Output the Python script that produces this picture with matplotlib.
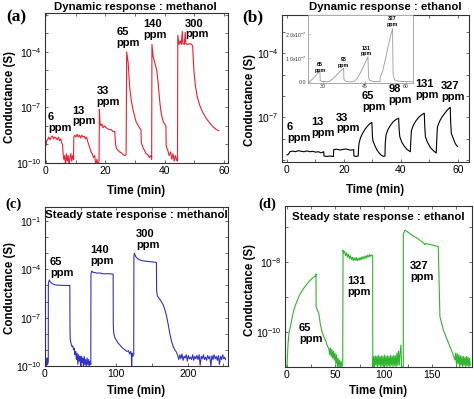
import numpy as np
import matplotlib.pyplot as plt
from matplotlib.ticker import FixedLocator, FuncFormatter, NullFormatter

plt.rcParams['font.family'] = ['Liberation Sans', 'DejaVu Sans']
plt.rcParams['mathtext.default'] = 'regular'

# ---- data: (time in min, log10 conductance in S) ----
a_points = [
    (0.0, -9.05), (0.3, -8.8), (0.7, -8.7), (1.0, -8.6), (1.4, -8.75), (1.8, -8.6), (2.2, -8.55),
    (2.6, -8.7), (3.0, -8.6), (3.4, -8.65), (3.8, -8.75), (4.2, -8.6), (4.6, -8.8), (5.0, -8.7),
    (5.3, -8.9), (5.6, -9.0), (5.8, -9.5), (6.0, -9.8), (6.3, -9.6), (6.6, -10.1), (6.9, -9.5),
    (7.2, -9.9), (7.5, -9.6), (7.8, -10.1), (8.1, -9.7), (8.4, -9.5), (8.7, -9.9), (9.0, -9.6),
    (9.3, -9.8), (9.4, -8.6), (9.7, -8.5), (10.1, -8.6), (10.5, -8.45), (10.9, -8.6), (11.3, -8.5),
    (11.7, -8.65), (12.1, -8.5), (12.5, -8.6), (12.9, -8.55), (13.3, -8.7), (13.7, -8.6),
    (14.0, -8.8), (14.4, -9.0), (14.8, -9.2), (15.2, -9.4), (15.6, -9.5), (16.0, -9.7),
    (16.4, -9.6), (16.8, -10.1), (17.2, -9.8), (17.6, -10.1), (17.9, -9.9),
    (18.0, -7.1), (18.2, -7.8), (18.5, -8.0), (18.9, -7.9), (19.3, -8.1), (19.8, -8.0),
    (20.3, -8.1), (20.8, -8.15), (21.4, -8.2), (22.0, -8.2), (22.6, -8.3), (23.2, -8.3),
    (23.4, -8.9), (23.7, -9.2), (24.2, -9.3), (24.8, -9.4), (25.4, -9.45), (26.0, -9.55),
    (26.6, -9.6), (27.0, -9.55),
    (27.2, -4.0), (27.7, -4.6), (28.2, -5.9), (28.7, -6.6), (29.3, -7.1), (29.9, -7.5),
    (30.4, -7.8), (31.0, -7.95), (31.5, -8.1), (32.0, -8.2), (32.1, -8.9), (32.8, -9.2),
    (33.7, -9.5), (34.3, -9.55), (34.8, -9.7), (35.3, -9.6), (35.6, -9.8),
    (35.7, -3.6), (36.1, -4.25), (36.7, -4.6), (37.3, -4.97), (37.8, -5.7), (38.4, -6.8),
    (38.9, -7.4), (39.5, -7.77), (40.0, -7.9), (40.4, -8.0), (40.5, -9.1), (41.0, -9.3),
    (41.5, -9.6), (42.0, -9.4), (42.4, -9.8), (42.8, -9.5), (43.2, -9.9), (43.6, -9.6),
    (44.0, -9.85), (44.3, -9.9),
    (44.4, -3.1), (44.8, -3.6), (45.2, -3.4), (45.6, -3.6), (45.9, -2.9), (46.1, -3.55),
    (46.6, -3.6), (46.9, -2.95), (47.1, -3.55), (47.8, -3.6), (48.5, -3.55), (49.1, -3.6),
    (49.4, -3.7), (49.8, -4.97), (50.3, -5.8), (50.9, -6.4), (51.8, -6.9), (52.9, -7.3),
    (54.0, -7.6), (55.2, -7.85), (56.3, -8.05), (57.4, -8.2), (58.2, -8.25),
]
a_labels = ['6', '13', '33', '65', '140', '300']
a_label_pos = [(0.7, -7.81), (9.0, -7.46), (17.1, -6.42), (23.8, -3.24), (32.8, -2.81), (46.8, -2.76)]

b_points = [
    (0.0, -8.75), (0.5, -8.72), (1.0, -8.6), (2.0, -8.57), (3.0, -8.6), (4.0, -8.55), (5.0, -8.58),
    (6.0, -8.6), (7.0, -8.56), (8.0, -8.6), (9.0, -8.58), (10.0, -8.62), (11.0, -8.6), (12.0, -8.65),
    (12.9, -8.6), (13.0, -8.8), (14.0, -8.82), (15.0, -8.8), (16.3, -8.82), (16.4, -8.5),
    (17.5, -8.48), (18.5, -8.52), (19.5, -8.5), (20.5, -8.47), (21.5, -8.5), (22.5, -8.53),
    (23.4, -8.5), (23.5, -8.8), (24.3, -8.82), (25.0, -8.8),
    (25.1, -8.5), (25.3, -8.2), (25.8, -7.95), (26.5, -7.75), (27.3, -7.57), (28.1, -7.43),
    (29.0, -7.3), (29.8, -7.23), (30.0, -7.9), (30.2, -8.1), (30.8, -8.3), (31.5, -8.5),
    (32.3, -8.65), (33.0, -8.75), (33.9, -8.82), (34.4, -8.8),
    (34.5, -8.2), (34.8, -7.8), (35.5, -7.55), (36.4, -7.35), (37.3, -7.2), (38.2, -7.1),
    (39.2, -7.03), (39.4, -7.6), (39.6, -7.9), (40.3, -8.15), (41.2, -8.35), (42.2, -8.5),
    (43.3, -8.6),
    (43.5, -8.0), (43.7, -7.6), (44.4, -7.35), (45.3, -7.15), (46.2, -7.0), (47.2, -6.88),
    (48.2, -6.8), (48.4, -7.5), (48.6, -7.9), (49.3, -8.15), (50.3, -8.4), (51.4, -8.55),
    (52.4, -8.66),
    (52.6, -8.0), (52.8, -7.45), (53.5, -7.2), (54.4, -6.98), (55.4, -6.8), (56.3, -6.65),
    (57.3, -6.52), (57.5, -7.3), (57.7, -7.75), (58.3, -7.95), (59.0, -8.2), (59.5, -8.3),
    (59.9, -8.35),
]
b_labels = ['6', '13', '33', '65', '98', '131', '327']
b_label_pos = [(0.0, -7.72), (8.4, -7.48), (17.3, -7.26), (26.3, -6.25), (35.7, -5.94),
               (45.0, -5.68), (54.0, -5.79)]

# inset of (b): linear conductance in units of 1e-7 S
inset_points = [
    (24.5, 0.0), (25.1, 0.02), (26.0, 0.1), (27.0, 0.22), (28.0, 0.36), (28.8, 0.47), (28.9, 0.05),
    (29.5, 0.01), (31.8, 0.0), (32.5, 0.04), (33.5, 0.12), (34.5, 0.24), (35.5, 0.36), (36.5, 0.48),
    (37.4, 0.57), (37.5, 0.1), (38.0, 0.03), (39.0, 0.0), (41.0, 0.0), (42.0, 0.1), (43.0, 0.28),
    (44.0, 0.5), (45.0, 0.75), (45.8, 0.95), (46.2, 1.06), (46.4, 0.2), (46.8, 0.06), (48.0, 0.02),
    (50.6, 0.0), (50.6, 0.18), (51.5, 0.45), (52.5, 0.95), (53.5, 1.5), (54.4, 1.95), (55.1, 2.24),
    (55.3, 0.3), (55.8, 0.08), (57.0, 0.03), (59.0, 0.01), (62.5, 0.0),
]
inset_labels = ['65', '98', '131', '327']
inset_label_pos = [(28.9, 0.6), (37.4, 0.81), (45.6, 1.3), (54.9, 2.56)]

c_points = [
    (0.5, -9.9), (1.2, -9.6), (1.8, -10.0), (2.4, -9.7), (3.0, -9.5), (3.6, -9.9), (4.2, -9.8),
    (4.6, -9.7), (4.7, -4.9), (5.9, -4.66), (7.5, -4.78), (10.0, -4.88), (13.0, -4.95), (17.0, -4.98),
    (22.0, -4.99), (27.0, -5.0), (31.0, -5.0), (34.8, -5.0), (35.0, -7.5), (35.3, -8.3), (36.0, -8.5),
    (37.0, -8.7), (38.0, -8.8), (39.0, -8.75), (40.0, -9.0), (41.0, -8.9), (42.0, -9.3), (43.0, -9.1),
    (44.0, -9.6), (45.0, -9.2), (46.0, -9.9), (47.0, -9.3), (48.0, -9.7), (49.0, -9.4), (50.0, -10.1),
    (51.0, -9.4), (52.0, -9.8), (53.0, -9.5), (54.0, -10.1), (55.0, -9.4), (56.0, -9.9), (57.0, -9.6),
    (58.0, -10.1), (59.0, -9.5), (60.0, -9.9), (61.0, -9.6), (62.0, -10.1), (63.0, -9.7), (64.2, -9.9),
    (64.4, -4.3), (65.5, -4.1), (67.0, -4.18), (70.0, -4.2), (73.0, -4.24), (76.0, -4.22),
    (80.0, -4.26), (84.0, -4.28), (88.0, -4.27), (92.0, -4.28), (95.5, -4.3), (95.7, -7.4),
    (96.2, -7.9), (97.5, -8.2), (100.0, -8.4), (103.0, -8.6), (106.0, -8.75), (109.0, -8.9),
    (112.0, -9.0), (115.0, -9.1), (117.0, -9.05), (118.5, -9.25), (120.0, -9.1), (121.0, -9.3),
    (121.5, -10.1), (122.0, -9.2), (123.0, -9.4), (124.4, -9.3),
    (124.6, -3.2), (125.3, -3.0), (127.0, -3.2), (130.0, -3.35), (133.0, -3.42), (137.0, -3.47),
    (142.0, -3.5), (147.0, -3.52), (152.0, -3.55), (156.2, -3.57), (156.4, -5.3), (157.5, -5.65),
    (160.0, -5.8), (163.0, -6.0), (165.7, -6.2), (168.0, -6.5), (170.4, -6.9), (173.0, -7.5),
    (175.0, -8.0), (177.0, -8.4), (179.7, -8.8), (182.0, -9.0), (184.4, -9.15),
    (186.0, -9.35), (187.5, -9.6), (189.0, -9.3), (190.5, -9.55), (192.0, -9.25), (193.5, -9.65),
    (195.0, -9.4), (196.5, -9.5), (198.0, -9.3), (199.5, -9.7), (201.0, -9.35), (202.5, -9.55),
    (204.0, -9.45), (205.5, -9.6), (207.0, -9.3), (208.5, -9.65), (210.0, -9.4), (211.5, -9.55),
    (213.0, -9.35), (214.5, -9.6), (216.0, -9.3), (217.5, -9.95), (219.0, -9.4), (220.5, -9.55),
    (222.0, -9.3), (223.5, -9.6), (225.0, -9.45), (226.5, -9.65), (228.0, -9.35), (229.5, -9.55),
    (231.0, -9.4), (232.5, -10.0), (234.0, -9.35), (235.5, -9.6), (237.0, -9.3), (238.5, -9.55),
    (240.0, -9.4), (241.5, -9.65), (243.0, -9.35), (244.5, -9.9), (246.0, -9.4), (247.5, -9.6),
    (249.0, -9.3), (250.5, -9.55), (252.0, -9.45), (253.0, -9.6),
]
c_labels = ['65', '140', '300']
c_label_pos = [(7.0, -3.89), (64.0, -3.16), (127.4, -2.13)]

d_points = [
    (0.0, -11.0), (0.5, -10.7), (1.2, -10.3), (2.2, -10.0), (3.6, -9.85), (5.3, -9.6), (7.1, -9.37),
    (9.5, -9.18), (12.2, -8.99), (14.8, -8.86), (17.4, -8.75), (20.0, -8.65), (22.6, -8.56),
    (26.0, -8.47), (29.4, -8.4), (30.0, -8.34), (30.1, -9.28), (31.5, -9.38), (32.9, -9.47),
    (34.6, -9.8), (36.3, -10.0), (38.0, -10.13), (39.7, -10.23), (41.5, -10.38), (43.2, -10.47),
    (44.0, -10.65), (44.8, -10.45), (45.6, -10.7), (46.4, -10.5), (47.2, -10.75), (48.0, -10.55),
    (48.8, -10.8), (49.6, -10.6), (50.4, -10.9), (51.2, -10.65), (52.0, -11.0), (52.8, -10.75),
    (53.6, -11.0), (54.4, -10.8), (55.2, -11.0), (56.0, -10.85), (56.8, -11.0), (57.6, -10.9),
    (57.9, -7.66), (58.5, -7.75), (59.5, -7.7), (60.5, -7.82), (61.5, -7.74), (62.5, -7.86),
    (63.5, -7.78), (64.5, -7.9), (65.5, -7.82), (66.5, -7.93), (67.5, -7.86), (68.5, -7.96),
    (69.5, -7.88), (70.5, -7.95), (71.5, -7.87), (72.5, -7.97), (73.5, -7.89), (74.5, -7.95),
    (75.5, -7.87), (76.5, -7.94), (77.5, -7.85), (78.5, -7.92), (79.5, -7.84), (80.5, -7.9),
    (81.5, -7.82), (82.5, -7.88), (83.5, -7.8), (84.5, -7.86), (85.5, -7.79), (86.5, -7.84),
    (87.5, -7.8), (88.5, -7.82), (88.6, -11.0),
    (89.5, -10.7), (90.3, -11.0), (91.1, -10.68), (91.9, -10.95), (92.7, -10.7), (93.5, -11.0),
    (94.3, -10.66), (95.1, -10.95), (95.9, -10.7), (96.7, -11.0), (97.5, -10.68), (98.3, -10.97),
    (99.1, -10.7), (99.9, -11.0), (100.7, -10.66), (101.5, -10.95), (102.3, -10.7), (103.1, -11.0),
    (103.9, -10.68), (104.7, -10.96), (105.5, -10.7), (106.3, -11.0), (107.1, -10.66),
    (107.9, -10.95), (108.7, -10.7), (109.5, -11.0), (110.3, -10.67), (111.1, -10.96),
    (111.9, -10.68), (112.7, -11.0), (113.5, -10.6), (114.3, -10.95), (115.1, -10.55),
    (115.9, -10.95), (116.7, -10.6), (117.7, -10.37), (118.2, -11.0), (119.5, -11.0),
    (120.1, -11.0),
    (120.1, -7.2), (121.9, -7.09), (125.0, -7.15), (130.0, -7.25), (135.0, -7.33), (140.7, -7.45),
    (142.5, -7.51), (143.0, -7.47), (148.0, -7.5), (152.0, -7.53), (156.2, -7.56), (157.2, -8.7),
    (157.9, -9.56), (161.4, -9.94), (164.8, -10.18), (168.2, -10.42), (171.0, -10.61),
    (173.4, -10.8), (174.2, -10.6), (175.0, -10.95), (175.8, -10.62), (176.6, -10.9),
    (177.4, -10.65), (178.2, -11.0), (179.0, -10.68), (179.8, -10.95), (180.6, -10.7),
    (181.4, -11.0), (182.2, -10.7), (183.0, -10.95), (183.8, -10.72), (184.6, -11.0),
    (185.4, -10.7), (186.2, -10.96), (187.0, -10.72), (187.8, -11.0), (188.6, -10.75),
    (189.2, -10.95),
]
d_labels = ['65', '131', '327']
d_label_pos = [(12.3, -10.04), (62.0, -8.71), (127.3, -8.28)]

# ---- figure ----
W, H = 474, 399
fig = plt.figure(figsize=(W / 100, H / 100), dpi=100)


def px_axes(left, top, right, bottom):
    return fig.add_axes([left / W, 1 - bottom / H, (right - left) / W, (bottom - top) / H])


def log_label(v, pos):
    return r'$10^{%d}$' % int(round(np.log10(v)))


def setup(ax, xlim, xmaj, xmin, ylim, ymaj, ymin, xlab_y, ylab_x, ylab_y):
    ax.set_yscale('log')
    ax.set_xlim(*xlim)
    ax.set_ylim(10.0 ** ylim[0], 10.0 ** ylim[1])
    ax.xaxis.set_major_locator(FixedLocator(xmaj))
    ax.xaxis.set_minor_locator(FixedLocator(xmin))
    ax.yaxis.set_major_locator(FixedLocator([10.0 ** k for k in ymaj]))
    ax.yaxis.set_minor_locator(FixedLocator([10.0 ** k for k in ymin]))
    ax.yaxis.set_major_formatter(FuncFormatter(log_label))
    ax.yaxis.set_minor_formatter(NullFormatter())
    ax.tick_params(which='both', direction='in', top=True, right=True, length=2.2,
                   width=0.6, color='#555555', labelsize=7.5, pad=2.5)
    for s in ax.spines.values():
        s.set_linewidth(0.8)
        s.set_color('#333333')
    ax.set_xlabel('Time (min)', fontsize=8.3, fontweight='bold')
    ax.set_ylabel('Conductance (S)', fontsize=8.3, fontweight='bold')
    ax.xaxis.set_label_coords(0.5, xlab_y)
    ax.yaxis.set_label_coords(ylab_x, ylab_y)


def ppm_label(ax, x, y, num, size, ha='left'):
    # concentration above, "ppm" below, stacked around (x, y)
    ax.annotate(num, (x, y), xytext=(0, 0.3), textcoords='offset points',
                fontsize=size, fontweight='bold', ha=ha, va='bottom')
    ax.annotate('ppm', (x, y), xytext=(0, -0.3), textcoords='offset points',
                fontsize=size, fontweight='bold', ha=ha, va='top')


def draw(ax, points, color, labels, label_pos):
    t, g = zip(*points)
    ax.plot(t, 10.0 ** np.array(g), color=color, lw=0.8)
    for lab, (x, y) in zip(labels, label_pos):
        ppm_label(ax, x, 10.0 ** y, lab, 8)


# (a)
ax_a = px_axes(45, 13, 228, 163)
setup(ax_a, (-0.3, 61.3), [0, 20, 40, 60], [10, 30, 50], (-10, -1.9),
      [-10, -7, -4], [-9, -8, -6, -5, -3, -2], -0.145, -0.158, 0.44)
draw(ax_a, a_points, '#ee2030', a_labels, a_label_pos)

# (b)
ax_b = px_axes(282, 15, 469, 162)
setup(ax_b, (-1.75, 63.9), [0, 20, 40, 60], [10, 30, 50], (-9.08, -2.21),
      [-7, -4], [-9, -8, -6, -5, -3], -0.148, -0.139, 0.42)
draw(ax_b, b_points, 'black', b_labels, b_label_pos)

ax_in = px_axes(308, 15, 413, 82.7)
t_in, g_in = zip(*inset_points)
ax_in.plot(t_in, g_in, color='#9a9a9a', lw=0.6)
ax_in.set_xlim(24.5, 62.5)
ax_in.set_ylim(-0.04, 2.82)
ax_in.set_xticks([30, 45, 60])
ax_in.set_yticks([0, 1, 2])
ax_in.set_yticklabels(['0.0', r'1.0x10$^{-7}$', r'2.0x10$^{-7}$'])
ax_in.tick_params(direction='in', length=1.5, width=0.4, labelsize=3.8, pad=1,
                  color='#777777', labelcolor='#333333')
for s in ax_in.spines.values():
    s.set_linewidth(0.5)
    s.set_color('#888888')
for lab, (x, y) in zip(inset_labels, inset_label_pos):
    ppm_label(ax_in, x, y, lab, 3.8, ha='center')

# (c)
ax_c = px_axes(45, 207, 228, 366)
setup(ax_c, (0, 256.5), [0, 100, 200], [50, 150, 250], (-10, -0.13),
      [-10, -7, -4, -1], [-9, -8, -6, -5, -3, -2], -0.12, -0.158, 0.49)
draw(ax_c, c_points, '#3232c8', c_labels, c_label_pos)
ax_c.text(0.0, 0.95, 'Steady state response : methanol', transform=ax_c.transAxes,
          fontsize=8.2, fontweight='bold', ha='left', va='center')

# (d)
ax_d = px_axes(285, 206, 472, 367)
setup(ax_d, (-2, 191), [0, 50, 100, 150], [25, 75, 125, 175], (-11.0, -6.4),
      [-10, -8], [-11, -9, -7], -0.112, -0.155, 0.48)
draw(ax_d, d_points, '#2fb52f', d_labels, d_label_pos)
ax_d.text(0.037, 0.93, 'Steady state response : ethanol', transform=ax_d.transAxes,
          fontsize=8.2, fontweight='bold', ha='left', va='center')

# titles and panel letters
fig.text(135 / W, 1 - 7.5 / H, 'Dynamic response : methanol', fontsize=8.2,
         fontweight='bold', ha='center', va='center')
fig.text(385.5 / W, 1 - 7 / H, 'Dynamic response : ethanol', fontsize=8.2,
         fontweight='bold', ha='center', va='center')
for lab, x, y, size in [('(a)', 16.7, 17.5, 12.5), ('(b)', 253, 17.5, 12.5),
                        ('(c)', 13, 204, 10.5), ('(d)', 267, 204, 10.5)]:
    fig.text(x / W, 1 - y / H, lab, fontsize=size, fontweight='bold',
             family='Liberation Serif', ha='center', va='center')

fig.savefig('out.png', dpi=100)
